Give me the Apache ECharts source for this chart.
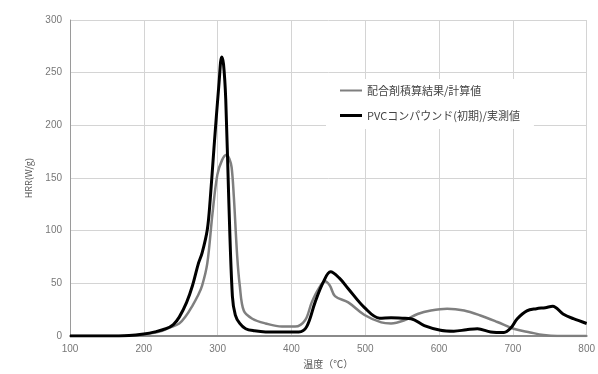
<!DOCTYPE html>
<html>
<head>
<meta charset="utf-8">
<script src="https://cdn.jsdelivr.net/npm/echarts@6/dist/echarts.min.js"></script>
<style>
html,body{margin:0;padding:0;background:#fff;}
#c{width:598px;height:374px;}
</style>
</head>
<body>
<div id="c"></div>
<script>
const seriesNames = ['配合剤積算結果/計算値', 'PVCコンパウンド(初期)/実測値'];
const xTicks = [100, 200, 300, 400, 500, 600, 700, 800];
const yTicks = [0, 50, 100, 150, 200, 250, 300];

const tempGray = [100,150,180,200,220,235,248,257,266,273,279,286,293,299.6,306,312,316,319,322,326.5,330,335.5,347,365,387,405,418.5,427.5,436.5,445.5,452,459,477,499,521.7,535,553,571,589,611,634,656,679,701,723.5,741.6,760,800];
const hrrGray = [0,0,0.3,1.5,4,8,12,19,29,38,48,69,116,153,167,172,168,160,132,76,48,24,16.5,12,9,9,15,32,44.6,52,48,38,32,20,13,12,15,21,24.3,26,24.3,19.6,13.4,7,3.5,1,0,0];

const tempBlack = [100,150,180,200,215,230,240,248,258,266,274,279,286,290,295,302,305.5,308,311,315,320,324,330,338,350,365,385,400,410,420.7,432,443,453,465,477,499,519.5,535,550,562,580,602,620,637,652,670,688,697,706,719,732,744,754,768,782,800];
const hrrBlack = [0,0,0.5,2,4,7,11,18,32,48,69,79,101,130,178,241,265,258,225,132,38,20,12,7,5,4,4,4,4,9,32,51,61,55,45,27,17,17.5,17,16.5,10,5.6,4.7,6,7,4,3.5,7.5,16.5,24,26,27,28.3,21,16.5,12];

const pair = (xs, ys) => xs.map((x, i) => [x, ys[i]]);
const tickFont = 'Liberation Sans Narrow, Liberation Sans, sans-serif';

const chart = echarts.init(document.getElementById('c'), null, {renderer: 'canvas'});
chart.setOption({
  animation: false,
  backgroundColor: '#fff',
  grid: {left: 70, right: 8, top: 20, bottom: 33, containLabel: false},
  legend: {
    orient: 'vertical',
    left: 326,
    top: 79,
    padding: [6, 14, 8, 14],
    itemGap: 14,
    itemWidth: 22,
    itemHeight: 12,
    backgroundColor: '#fff',
    textStyle: {fontSize: 11, color: '#444', fontFamily: 'Noto Sans CJK JP'},
    data: [
      {name: seriesNames[0], icon: 'path://M0,5 L22,5 L22,7 L0,7 Z', itemStyle: {color: '#7f7f7f'}},
      {name: seriesNames[1], icon: 'path://M0,4.5 L22,4.5 L22,7.5 L0,7.5 Z', itemStyle: {color: '#000'}}
    ]
  },
  xAxis: {
    type: 'value',
    min: xTicks[0],
    max: xTicks[xTicks.length - 1],
    interval: 100,
    name: '温度（℃）',
    nameLocation: 'middle',
    nameGap: 20,
    nameTextStyle: {fontSize: 10, color: '#555', fontFamily: 'Noto Sans CJK JP'},
    axisLine: {show: true, lineStyle: {color: '#8a8a8a', width: 2}},
    axisTick: {show: false},
    axisLabel: {fontSize: 10, color: '#777', margin: 8, fontFamily: tickFont},
    splitLine: {show: true, lineStyle: {color: '#d4d4d4', width: 1}}
  },
  yAxis: {
    type: 'value',
    min: yTicks[0],
    max: yTicks[yTicks.length - 1],
    interval: 50,
    name: 'HRR(W/g)',
    nameLocation: 'middle',
    nameGap: 37,
    nameRotate: 90,
    nameTextStyle: {fontSize: 9, color: '#555', fontFamily: 'Noto Sans CJK JP'},
    axisLine: {show: true, lineStyle: {color: '#9a9a9a', width: 1}},
    axisTick: {show: false},
    axisLabel: {fontSize: 10, color: '#777', margin: 8, fontFamily: tickFont},
    splitLine: {show: true, lineStyle: {color: '#d4d4d4', width: 1}}
  },
  series: [
    {
      name: seriesNames[0],
      type: 'line',
      data: pair(tempGray, hrrGray),
      showSymbol: false,
      smooth: 0.35,
      lineStyle: {color: '#7f7f7f', width: 2.5, join: 'round'},
      itemStyle: {color: '#7f7f7f'},
      z: 2
    },
    {
      name: seriesNames[1],
      type: 'line',
      data: pair(tempBlack, hrrBlack),
      showSymbol: false,
      smooth: 0.35,
      lineStyle: {color: '#000', width: 3, join: 'round'},
      itemStyle: {color: '#000'},
      z: 3
    }
  ]
});
</script>
</body>
</html>
